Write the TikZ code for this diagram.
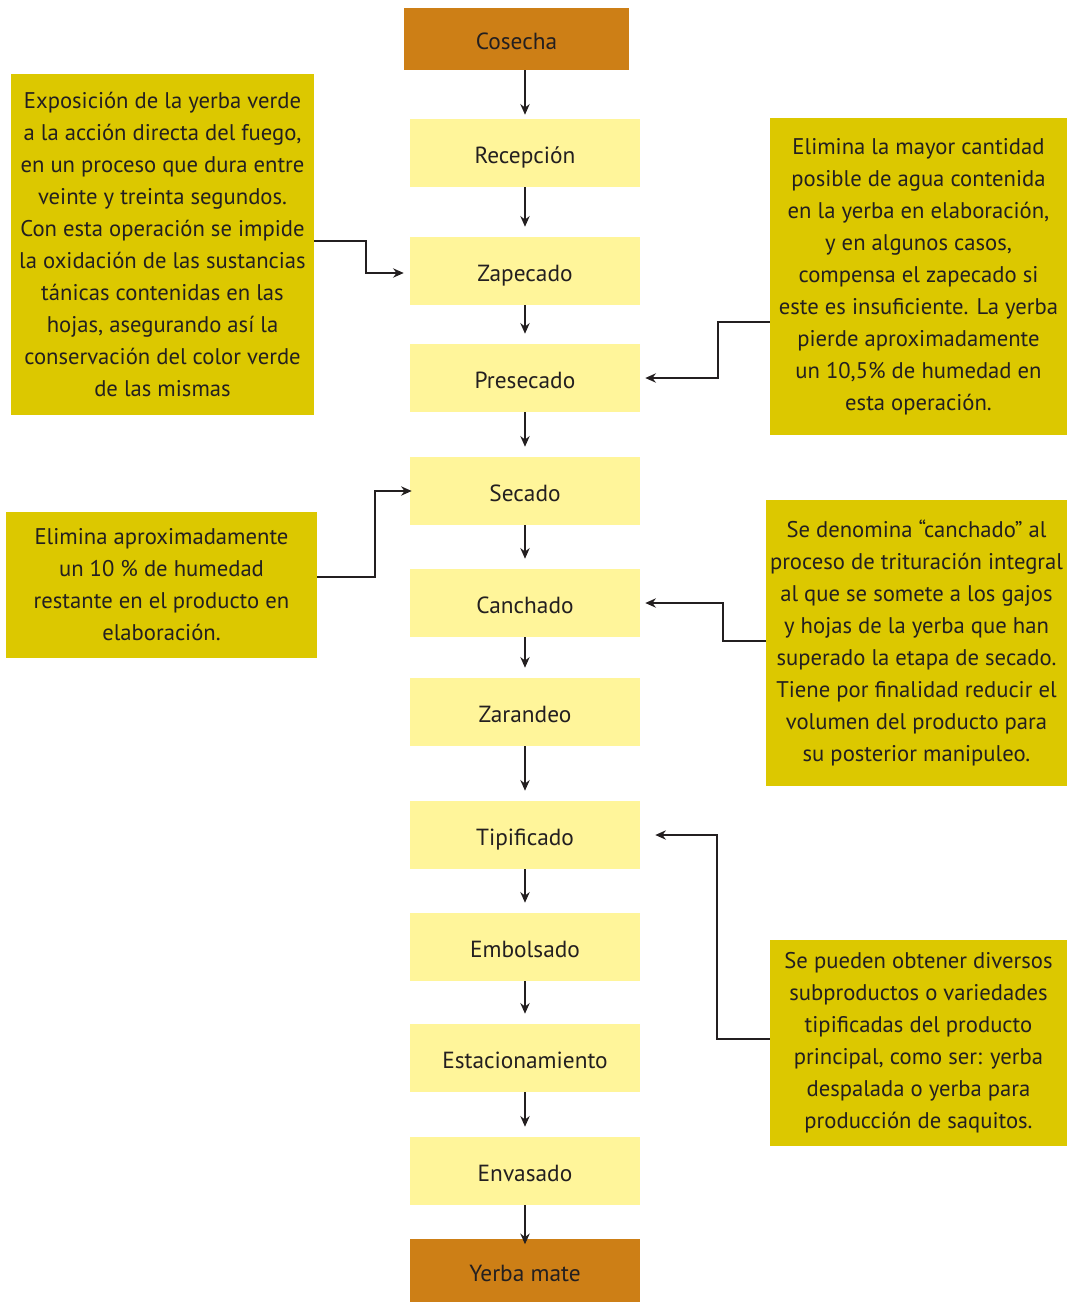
\documentclass[tikz,border=0pt]{standalone}
\usepackage{fontspec}
\setmainfont{PT Sans}
\usetikzlibrary{arrows.meta}

\definecolor{cosechaorange}{HTML}{CD7F16}
\definecolor{pasoyellow}{HTML}{FFF59A}
\definecolor{notamustard}{HTML}{DCC800}
\definecolor{textdark}{HTML}{231F20}

\tikzset{
  paso/.style={fill=pasoyellow, minimum width=172.5pt, minimum height=51pt,
    text=textdark, text height=16pt, text depth=0pt, font=\fontsize{17.5}{21}\selectfont},
  extremo/.style={paso, fill=cosechaorange, minimum height=47pt},
  nota/.style={fill=notamustard, align=center, inner sep=0pt, text=textdark,
    font=\fontsize{17}{24}\selectfont},
  flecha/.style={draw=textdark, line width=1.1pt, -{Stealth[length=8pt,width=7pt]}}
}

\begin{document}
\begin{tikzpicture}[x=0.75pt,y=-0.75pt]
  \useasboundingbox (0,0) rectangle (1067,1303);

  % Main process column
  \node[extremo, minimum width=168.75pt, minimum height=46.5pt] (cosecha) at (516.5,39) {Cosecha};
  \node[paso] (recepcion) at (525,153) {Recepción};
  \node[paso] (zapecado) at (525,271) {Zapecado};
  \node[paso] (presecado) at (525,378) {Presecado};
  \node[paso] (secado) at (525,491) {Secado};
  \node[paso] (canchado) at (525,603) {Canchado};
  \node[paso] (zarandeo) at (525,712) {Zarandeo};
  \node[paso] (tipificado) at (525,835) {Tipificado};
  \node[paso] (embolsado) at (525,947) {Embolsado};
  \node[paso] (estacionamiento) at (525,1058) {Estacionamiento};
  \node[paso] (envasado) at (525,1171) {Envasado};
  \node[extremo] (yerbamate) at (525,1270.5) {Yerba mate};

  % Arrows between steps
  \draw[flecha, shorten >=3pt] (cosecha.south -| recepcion.north) -- (recepcion.north);
  \foreach \a/\b in {recepcion/zapecado, zapecado/presecado, presecado/secado,
      secado/canchado, canchado/zarandeo, zarandeo/tipificado, tipificado/embolsado,
      embolsado/estacionamiento, estacionamiento/envasado}
    \draw[flecha, shorten >=7.5pt] (\a.south) -- (\b.north);
  \draw[flecha, shorten >=-4pt] (envasado.south) -- (yerbamate.north);

  % Explanatory notes
  \node[nota, minimum width=227.25pt, minimum height=255.75pt] (notazapecado) at (162.5,244.5)
    {Exposición de la yerba verde\\a la acción directa del fuego,\\en un proceso que dura entre\\veinte y treinta segundos.\\Con esta operación se impide\\la oxidación de las sustancias\\tánicas contenidas en las\\hojas, asegurando así la\\conservación del color verde\\de las mismas};
  \node[nota, minimum width=222.75pt, minimum height=237.75pt] (notapresecado) at (918.5,276.5)
    {Elimina la mayor cantidad\\posible de agua contenida\\en la yerba en elaboración,\\y en algunos casos,\\compensa el zapecado si\\este es insuficiente. La yerba\\pierde aproximadamente\\un 10,5\% de humedad en\\esta operación.};
  \node[nota, minimum width=233.25pt, minimum height=109.5pt] (notasecado) at (161.5,585)
    {Elimina aproximadamente\\un 10 \% de humedad\\restante en el producto en\\elaboración.};
  \node[nota, minimum width=225.75pt, minimum height=214.5pt] (notacanchado) at (916.5,643)
    {Se denomina “canchado” al\\proceso de trituración integral\\al que se somete a los gajos\\y hojas de la yerba que han\\superado la etapa de secado.\\Tiene por finalidad reducir el\\volumen del producto para\\su posterior manipuleo.};
  \node[nota, minimum width=222.75pt, minimum height=154.5pt] (notatipificado) at (918.5,1043)
    {Se pueden obtener diversos\\subproductos o variedades\\tipificadas del producto\\principal, como ser: yerba\\despalada o yerba para\\producción de saquitos.};

  % Connectors from notes to steps
  \coordinate (k1) at (366,241);
  \coordinate (k2) at (718,322);
  \coordinate (k3) at (375,577);
  \coordinate (k4) at (723,641);
  \coordinate (k5) at (717,1039);
  \draw[flecha, shorten >=4.5pt] (notazapecado.east |- k1) -- (k1) |- ([yshift=-1.5pt]zapecado.west);
  \draw[flecha, shorten >=3.75pt] (notapresecado.west |- k2) -- (k2) |- (presecado.east);
  \draw[flecha, shorten >=-1.5pt] (notasecado.east |- k3) -- (k3) |- (secado.west);
  \draw[flecha, shorten >=3.75pt] (notacanchado.west |- k4) -- (k4) |- (canchado.east);
  \draw[flecha, shorten >=11.25pt] (notatipificado.west |- k5) -- (k5) |- (tipificado.east);
\end{tikzpicture}
\end{document}
